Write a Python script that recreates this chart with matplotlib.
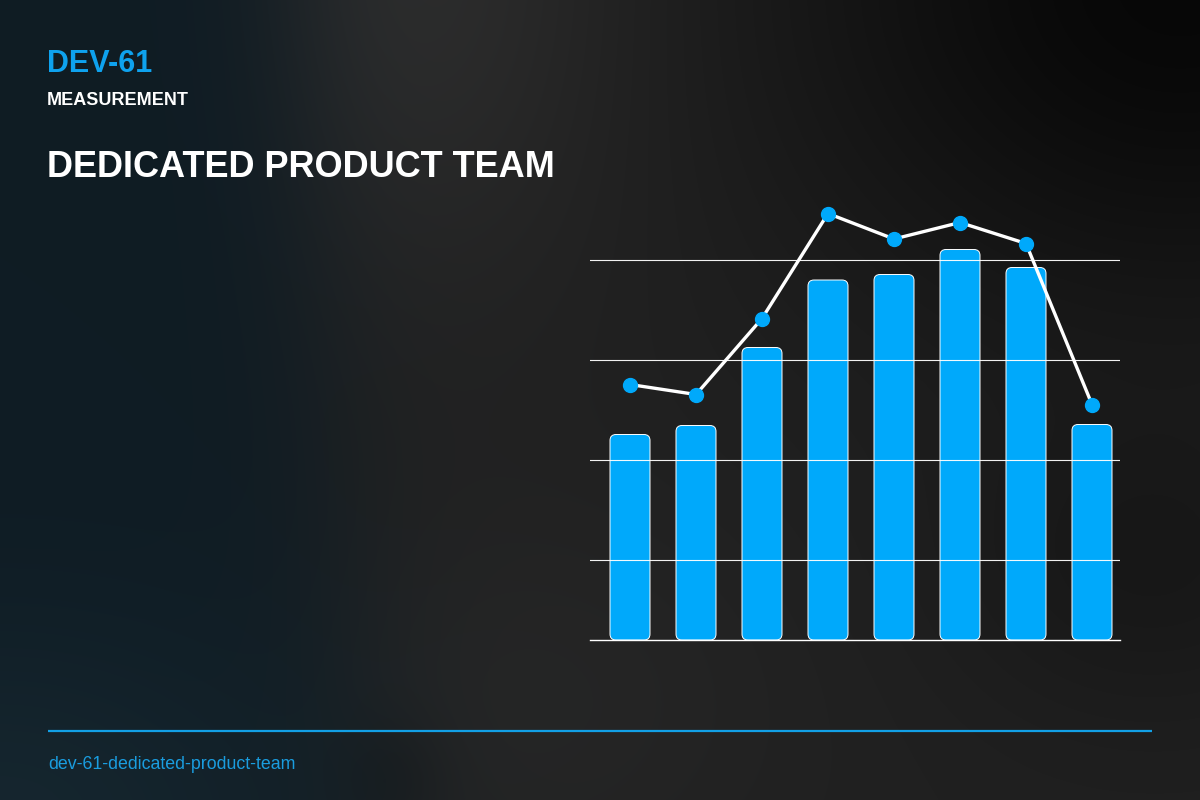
#!/usr/bin/env python3
"""Dark card: bar + line combo for DEV-61 measurement."""
import numpy as np
import matplotlib; matplotlib.use('Agg')
import matplotlib.pyplot as plt
from matplotlib.patches import FancyBboxPatch

# data
categories = list(range(8))
bar_values = [45.1, 46.9, 62.5, 76.0, 77.1, 82.1, 78.5, 47.1]
line_values = [55.1, 53.1, 68.3, 89.3, 84.2, 87.5, 83.3, 51.1]
grid_ticks = [20, 40, 60, 80]

BLUE = '#00a9fb'
W, H = 1200, 800
plt.rcParams['font.family'] = ['Liberation Sans', 'DejaVu Sans']

fig = plt.figure(figsize=(12, 8), dpi=100)

# background gradient
yy, xx = np.mgrid[0:H, 0:W].astype(float)
img = np.ones((H, W, 3)) * np.array([0x20, 0x20, 0x20]) / 255

def blend(img, w, col):
    c = np.array([int(col[i:i+2], 16) for i in (1, 3, 5)]) / 255
    w = np.clip(np.nan_to_num(w), 0, 1)[..., None]
    return img * (1 - w) + c * w

img = blend(img, 0.9 * np.exp(-(((xx - 400) / 230) ** 2 + ((yy + 40) / 320) ** 2)), '#2f2f2f')
img = blend(img, 0.6 * np.exp(-(((xx - 520) / 260) ** 2 + ((yy - 700) / 200) ** 2)), '#292929')
img = blend(img, 0.5 * np.exp(-(((xx - 380) / 60) ** 2 + ((yy - 780) / 60) ** 2)), '#151515')
img = blend(img, 0.95 * np.exp(-(((xx - 1180) / 380) ** 2 + ((yy + 20) / 330) ** 2)), '#060606')
img = blend(img, 0.5 * np.exp(-(((xx - 1150) / 200) ** 2 + ((yy - 560) / 160) ** 2)), '#101010')
edge = 290 + 0.08 * yy
img = blend(img, 1 / (1 + np.exp((xx - edge) / 45)), '#0f1c24')
img = blend(img, 0.7 * np.exp(-((xx / 300) ** 2 + ((yy - 820) / 200) ** 2)), '#182a33')
bg = fig.add_axes([0, 0, 1, 1], zorder=-10)
bg.imshow(img, extent=[0, W, H, 0], aspect='auto')
bg.set_xlim(0, W); bg.set_ylim(H, 0); bg.axis('off')

# header and footer text (pixel coords via bg axes)
bg.text(47, 72, 'DEV-61', color='#0ea2ee', fontsize=22, fontweight='bold', va='baseline')
bg.text(47, 105, 'MEASUREMENT', color='white', fontsize=13, fontweight='bold', va='baseline')
bg.text(47, 177, 'DEDICATED PRODUCT TEAM', color='white', fontsize=26, fontweight='bold', va='baseline')
bg.plot([48, 1152], [731, 731], color='#12a0e6', lw=1.6, solid_capstyle='butt')
bg.text(48, 769, 'dev-61-dedicated-product-team', color='#1a9ddf', fontsize=12.8, va='baseline')

# chart axes: x 590..1120 px, y 200..640 px
ax = fig.add_axes([590 / W, 1 - 640 / H, 530 / W, 440 / H])
ax.patch.set_alpha(0)
px_per_x = 66.0
xmin = -40 / px_per_x
ax.set_xlim(xmin, xmin + 530 / px_per_x)
ax.set_ylim(4, 92)
for s in ax.spines.values():
    s.set_visible(False)
ax.set_xticks([]); ax.set_yticks([])

bw = 40 / px_per_x
r = 6 / px_per_x
aspect = px_per_x / 5.0
for x, v in zip(categories, bar_values):
    ax.add_patch(FancyBboxPatch((x - bw / 2, 4), bw, v - 4,
                                boxstyle=f'round,pad=0,rounding_size={r}',
                                mutation_aspect=aspect, facecolor=BLUE,
                                edgecolor='white', lw=0.7, zorder=2))
for t in grid_ticks:
    ax.axhline(t, color='white', lw=0.8, alpha=0.95, zorder=3)
ax.axhline(4, color='white', lw=1.0, zorder=3, clip_on=False)

ax.plot(categories, line_values, color='white', lw=2.4, zorder=4, clip_on=False)
ax.plot(categories, line_values, 'o', color=BLUE, ms=10, mec=BLUE, zorder=5, clip_on=False)

plt.savefig('out.png', dpi=100)
